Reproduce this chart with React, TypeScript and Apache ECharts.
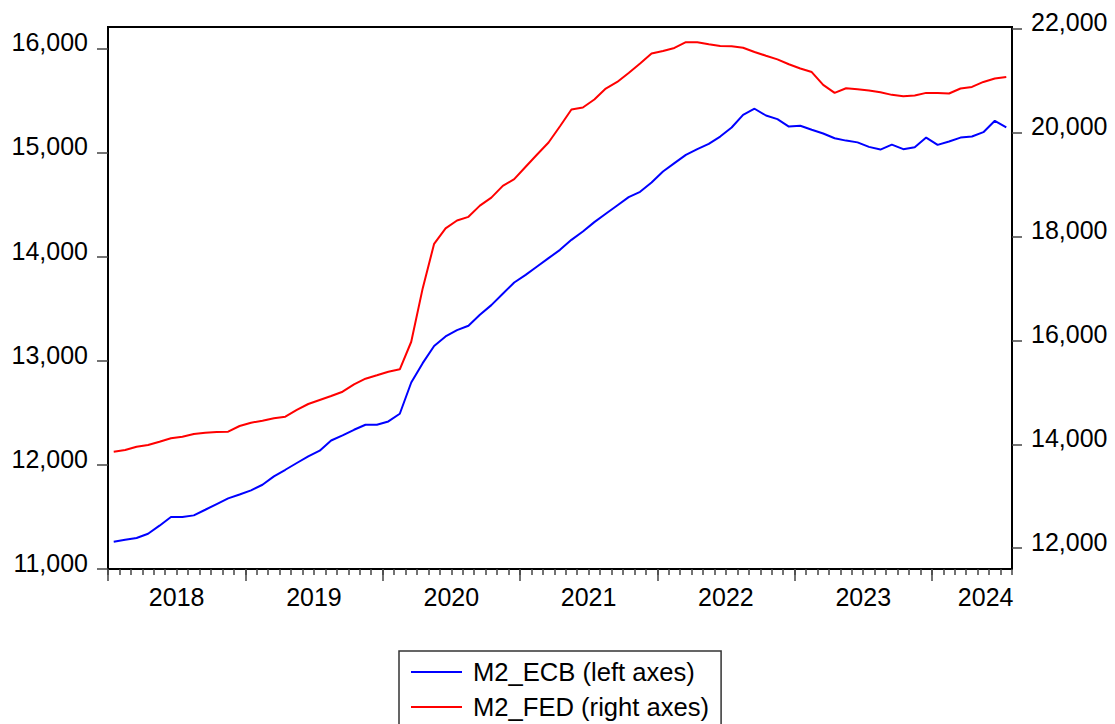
import React, { useEffect, useRef } from 'react';
import * as echarts from 'echarts';

const startYear = 2018;
const months: string[] = [];
for (let y = 2018; y <= 2024; y++) {
  for (let m = 1; m <= 12; m++) {
    if (y === 2024 && m > 7) break;
    months.push(`${y}-${m < 10 ? '0' + m : m}`);
  }
}

// M2 euro area (left axis), Jan 2018 - Jul 2024
const ecbM2 = [
  11262, 11281, 11298, 11339, 11416, 11499, 11499, 11515, 11569, 11624, 11678, 11716,
  11755, 11809, 11889, 11953, 12018, 12081, 12136, 12234, 12283, 12337, 12385, 12385,
  12417, 12491, 12791, 12977, 13142, 13233, 13294, 13336, 13441, 13534, 13643, 13751,
  13825, 13905, 13985, 14065, 14161, 14241, 14331, 14411, 14491, 14571, 14622, 14711,
  14817, 14898, 14977, 15032, 15083, 15153, 15240, 15361, 15420, 15355, 15320, 15249,
  15256, 15218, 15182, 15137, 15114, 15097, 15054, 15028, 15075, 15032, 15051, 15143,
  15073, 15105, 15143, 15153, 15195, 15304, 15240,
];

// M2 US (right axis), Jan 2018 - Jul 2024
const fedM2 = [
  13858, 13890, 13954, 13987, 14050, 14115, 14146, 14198, 14223, 14237, 14242, 14352,
  14415, 14454, 14500, 14531, 14660, 14775, 14852, 14929, 15012, 15154, 15262, 15327,
  15396, 15442, 15973, 17000, 17858, 18154, 18306, 18377, 18592, 18746, 18973, 19102,
  19340, 19577, 19808, 20121, 20442, 20481, 20635, 20846, 20973, 21146, 21327, 21519,
  21569, 21627, 21737, 21737, 21700, 21665, 21660, 21630, 21550, 21477, 21407, 21313,
  21231, 21163, 20916, 20762, 20852, 20833, 20810, 20775, 20724, 20698, 20712, 20762,
  20762, 20750, 20846, 20877, 20973, 21038, 21070,
];

const leftTicks = [11000, 12000, 13000, 14000, 15000, 16000];
const rightTicks = [12000, 14000, 16000, 18000, 20000, 22000];
const yearTicks = [0, 12, 24, 36, 48, 60, 72];
const yearLabelPos = [6, 18, 30, 42, 54, 66, 76.7];

const seriesNames = ['M2_ECB (left axes)', 'M2_FED (right axes)'];

const FONT = '"Liberation Sans", Arial, sans-serif';
const FS = 25;

export default function App() {
  const ref = useRef<HTMLDivElement>(null);
  useEffect(() => {
    if (!ref.current) return;
    const chart = echarts.init(ref.current, undefined, { renderer: 'svg' });
    const fmt = (v: number) => Math.round(v).toLocaleString('en-US');
    const tickStyle = { color: '#444', width: 1.5 };
    chart.setOption({
      animation: false,
      backgroundColor: '#fff',
      textStyle: { fontFamily: FONT },
      grid: {
        left: 108,
        right: 103,
        top: 27,
        bottom: 155,
        show: true,
        borderColor: '#000',
        borderWidth: 2,
        backgroundColor: 'transparent',
      },
      legend: {
        orient: 'vertical',
        left: 399,
        top: 651,
        height: 120,
        padding: [8, 12, 8, 12],
        itemWidth: 51,
        itemHeight: 24,
        itemGap: 9,
        icon: 'path://M0 0H51V2H0Z',
        itemStyle: { borderWidth: 0 },
        borderColor: '#333',
        borderWidth: 1.5,
        textStyle: { fontFamily: FONT, fontSize: 25.6, color: '#000', padding: [0, 0, 0, 6] },
        data: seriesNames,
      },
      xAxis: [
        {
          type: 'category',
          data: months,
          boundaryGap: true,
          axisLine: { show: false },
          axisTick: { show: true, interval: 0, length: 6, lineStyle: tickStyle },
          axisLabel: { show: false },
          splitLine: { show: false },
        },
        {
          type: 'value',
          min: 0,
          max: months.length,
          position: 'bottom',
          axisLine: { show: false },
          axisTick: { show: true, customValues: yearTicks, length: 12, lineStyle: tickStyle },
          axisLabel: {
            show: true,
            customValues: yearLabelPos,
            formatter: (v: number) => String(startYear + Math.floor(v / 12)),
            margin: 15,
            fontFamily: FONT,
            fontSize: FS,
            color: '#000',
          },
          splitLine: { show: false },
        },
      ],
      yAxis: [
        {
          type: 'value',
          position: 'left',
          min: 11000,
          max: 16205,
          axisLine: { show: false },
          axisTick: { show: true, customValues: leftTicks, length: 11, lineStyle: tickStyle },
          axisLabel: {
            customValues: leftTicks,
            formatter: fmt,
            margin: 20,
            fontFamily: FONT,
            fontSize: FS,
            color: '#000',
            verticalAlign: 'bottom',
            lineHeight: 12,
          },
          splitLine: { show: false },
        },
        {
          type: 'value',
          position: 'right',
          min: 11600,
          max: 22030,
          axisLine: { show: false },
          axisTick: { show: true, customValues: rightTicks, length: 10, lineStyle: tickStyle },
          axisLabel: {
            customValues: rightTicks,
            formatter: fmt,
            margin: 19,
            fontFamily: FONT,
            fontSize: FS,
            color: '#000',
            verticalAlign: 'bottom',
            lineHeight: 13,
          },
          splitLine: { show: false },
        },
      ],
      series: [
        {
          name: seriesNames[0],
          type: 'line',
          data: ecbM2,
          xAxisIndex: 0,
          yAxisIndex: 0,
          symbol: 'none',
          lineStyle: { color: '#0000FF', width: 2 },
          itemStyle: { color: '#0000FF' },
        },
        {
          name: seriesNames[1],
          type: 'line',
          data: fedM2,
          xAxisIndex: 0,
          yAxisIndex: 1,
          symbol: 'none',
          lineStyle: { color: '#FF0000', width: 2 },
          itemStyle: { color: '#FF0000' },
        },
      ],
    });
    return () => chart.dispose();
  }, []);
  return (
    <div
      ref={ref}
      style={{ position: 'fixed', left: 0, top: 0, width: 1115, height: 724 }}
    />
  );
}
